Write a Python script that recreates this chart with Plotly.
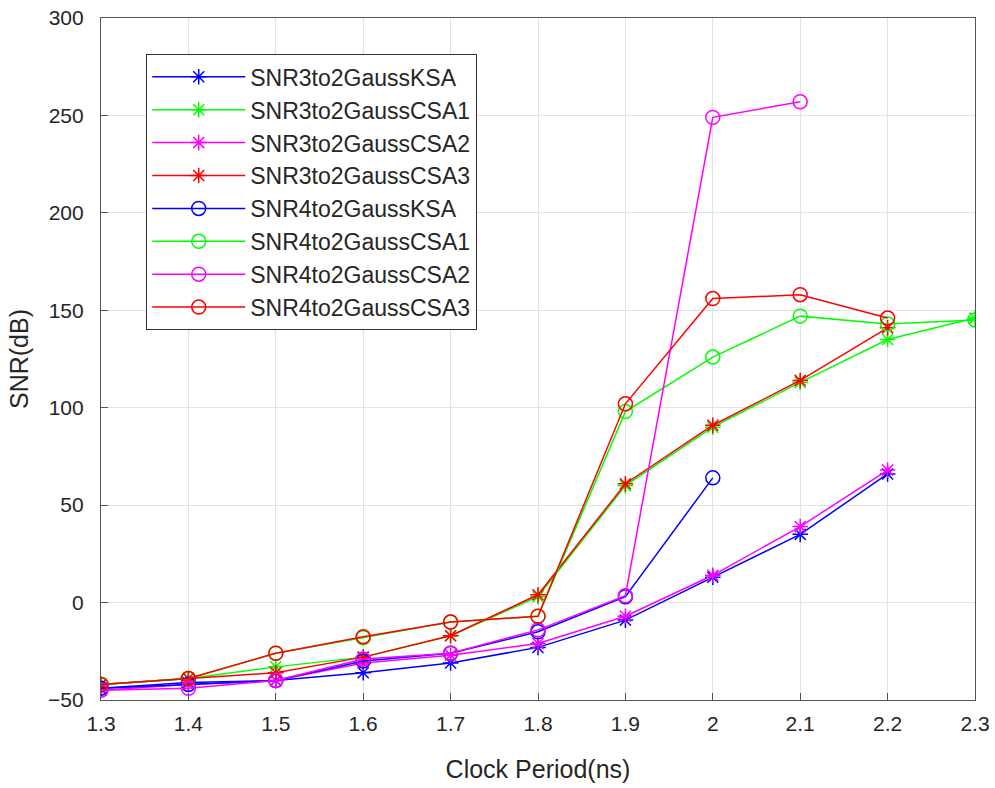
import plotly.graph_objects as go

# Clock periods (ns)
clock_ns = [1.3, 1.4, 1.5, 1.6, 1.7, 1.8, 1.9, 2.0, 2.1, 2.2, 2.3]

# SNR (dB) per adder configuration
snr3_ksa = [-44, -41, -40, -36, -31, -23, -9, 13, 35, 66]
snr3_csa1 = [-42, -39, -33, -28, -17, 3, 60, 90, 113, 135, 146]
snr3_csa2 = [-45, -42, -40, -31, -27, -21, -7, 14, 39, 68]
snr3_csa3 = [-42, -39, -36, -28, -17, 4, 61, 91, 114, 141]
snr4_ksa = [-44, -42, -40, -30, -26, -15, 3, 64]
snr4_csa1 = [-42, -39, -26, -18, -10, -7, 98, 126, 147, 143, 145]
snr4_csa2 = [-45, -44, -40, -29, -26, -14, 3.5, 249, 257]
snr4_csa3 = [-42, -39, -26, -17.5, -10, -7, 102, 156, 158, 146]

series_names = [
    "SNR3to2GaussKSA", "SNR3to2GaussCSA1", "SNR3to2GaussCSA2", "SNR3to2GaussCSA3",
    "SNR4to2GaussKSA", "SNR4to2GaussCSA1", "SNR4to2GaussCSA2", "SNR4to2GaussCSA3",
]
series_values = [snr3_ksa, snr3_csa1, snr3_csa2, snr3_csa3,
                 snr4_ksa, snr4_csa1, snr4_csa2, snr4_csa3]
colors = ["#0000FF", "#00FF00", "#FF00FF", "#FF0000"] * 2
symbols = ["asterisk-open"] * 4 + ["circle-open"] * 4

x_ticks = [1.3, 1.4, 1.5, 1.6, 1.7, 1.8, 1.9, 2.0, 2.1, 2.2, 2.3]
x_tick_text = ["1.3", "1.4", "1.5", "1.6", "1.7", "1.8", "1.9", "2", "2.1", "2.2", "2.3"]
y_ticks = [-50, 0, 50, 100, 150, 200, 250, 300]

FONT = "Liberation Sans, Arial, sans-serif"

fig = go.Figure()
for i, (name, vals) in enumerate(zip(series_names, series_values)):
    fig.add_trace(go.Scatter(
        x=clock_ns[:len(vals)], y=vals, name=name, mode="lines+markers",
        legendgroup=name,
        line=dict(color=colors[i], width=1.5),
        marker=dict(symbol=symbols[i], size=13 if i < 4 else 14,
                    color=colors[i], line=dict(color=colors[i], width=1.5)),
    ))

axis_common = dict(
    automargin=False,
    showline=True, linecolor="#555555", linewidth=1.2, mirror=True,
    ticks="inside", ticklen=7, tickcolor="#555555",
    showgrid=True, gridcolor="#e3e3e3", gridwidth=1,
    zeroline=False,
    tickfont=dict(family=FONT, size=21, color="#262626"),
)

fig.update_layout(
    width=995, height=788,
    paper_bgcolor="white", plot_bgcolor="white",
    margin=dict(l=101, r=20, t=18, b=88, autoexpand=False),
    font=dict(family=FONT, color="#262626"),
    xaxis=dict(range=[1.3, 2.3], tickvals=x_ticks, ticktext=x_tick_text,
               ticklabelstandoff=5,
               title=dict(text="Clock Period(ns)", font=dict(size=25), standoff=26),
               **axis_common),
    yaxis=dict(range=[-50, 300], tickvals=y_ticks, ticklabelstandoff=12,
               title=dict(text="SNR(dB)", font=dict(size=25), standoff=12),
               **axis_common),
    legend=dict(
        x=0.0515, y=0.947, xanchor="left", yanchor="top",
        bgcolor="white", bordercolor="#333333", borderwidth=1.2,
        font=dict(family=FONT, size=23, color="#262626"),
        tracegroupgap=0, itemwidth=93,
    ),
)

fig.write_html("out.html")
